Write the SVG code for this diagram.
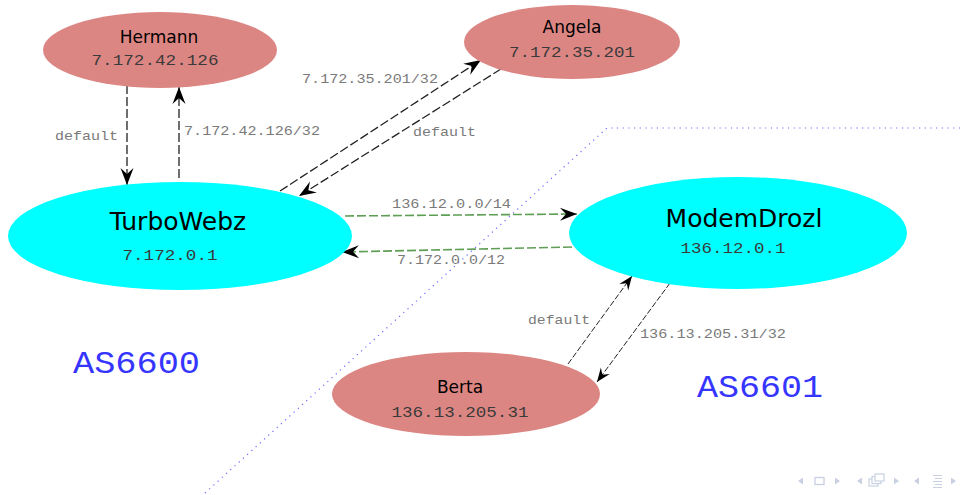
<svg xmlns="http://www.w3.org/2000/svg" width="964" height="495" viewBox="0 0 964 495">
<style>
.host{fill:#dc8683}
.router{fill:#00ffff}
.name{font-family:"DejaVu Sans",sans-serif;fill:#000}
.ip{font-family:"Liberation Mono",monospace;font-size:15px;fill:#3a3a3a;text-anchor:middle}
.lbl{font-family:"Liberation Mono",monospace;font-size:13px;fill:#7a7a7a}
.e{fill:none;stroke:#222;stroke-width:1.3;stroke-dasharray:9,3}
.eb{fill:none;stroke:#222;stroke-width:1;stroke-dasharray:6,2}
.g{fill:none;stroke:#5f9e55;stroke-width:1.6;stroke-dasharray:9,3}
.as{font-family:"Liberation Mono",monospace;font-size:32px;fill:#3535ff}
.nav{fill:#c8d0e2}
</style>
<defs>
<marker id="arr" markerUnits="userSpaceOnUse" viewBox="-18 -8 19 16" refX="0" refY="0" markerWidth="19" markerHeight="16" orient="auto">
<path d="M0,0 L-17,-6.5 L-11,0 L-17,6.5 z" fill="#000"/>
</marker>
<marker id="arrs" markerUnits="userSpaceOnUse" viewBox="-18 -8 19 16" refX="0" refY="0" markerWidth="19" markerHeight="16" orient="auto">
<path d="M0,0 L-14,-5.5 L-9,0 L-14,5.5 z" fill="#000"/>
</marker>
</defs>
<rect width="964" height="495" fill="#fff"/>
<polyline points="205,493 607,128 964,128" fill="none" stroke="#6a6aff" stroke-width="1.2" stroke-dasharray="1.2,4.5"/>
<text class="as" x="73" y="373" textLength="127" lengthAdjust="spacingAndGlyphs">AS6600</text>
<text class="as" x="697" y="397" textLength="126" lengthAdjust="spacingAndGlyphs">AS6601</text>
<g id="connectors">
<line class="e" x1="127" y1="85" x2="127" y2="185" marker-end="url(#arr)"/>
<line class="e" x1="179" y1="178" x2="179" y2="87" marker-end="url(#arr)"/>
<line class="e" x1="280" y1="191" x2="481" y2="60" marker-end="url(#arr)"/>
<line class="e" x1="501" y1="69" x2="299" y2="196" marker-end="url(#arr)"/>
<line class="g" x1="345" y1="216" x2="577" y2="214" marker-end="url(#arr)"/>
<line class="g" x1="572" y1="247" x2="342" y2="252" marker-end="url(#arr)"/>
<line class="eb" x1="568" y1="364" x2="632" y2="276" marker-end="url(#arrs)"/>
<line class="eb" x1="670" y1="283" x2="597" y2="382" marker-end="url(#arrs)"/>
<text class="lbl" x="55" y="140" textLength="63" lengthAdjust="spacingAndGlyphs">default</text>
<text class="lbl" x="184" y="135" textLength="136" lengthAdjust="spacingAndGlyphs">7.172.42.126/32</text>
<text class="lbl" x="302" y="83" textLength="136" lengthAdjust="spacingAndGlyphs">7.172.35.201/32</text>
<text class="lbl" x="413" y="136" textLength="63" lengthAdjust="spacingAndGlyphs">default</text>
<text class="lbl" x="392" y="208" textLength="119" lengthAdjust="spacingAndGlyphs">136.12.0.0/14</text>
<text class="lbl" x="397" y="264" textLength="108" lengthAdjust="spacingAndGlyphs">7.172.0.0/12</text>
<text class="lbl" x="528" y="324" textLength="62" lengthAdjust="spacingAndGlyphs">default</text>
<text class="lbl" x="640" y="338" textLength="146" lengthAdjust="spacingAndGlyphs">136.13.205.31/32</text>
</g>
<g id="hermann">
<ellipse class="host" cx="160" cy="50" rx="117" ry="38"/>
<text class="name" x="159" y="43" font-size="17" text-anchor="middle">Hermann</text>
<text class="ip" x="155" y="65" textLength="127" lengthAdjust="spacingAndGlyphs">7.172.42.126</text>
</g>
<g id="angela">
<ellipse class="host" cx="572" cy="42" rx="108" ry="37"/>
<text class="name" x="572" y="33" font-size="17" text-anchor="middle">Angela</text>
<text class="ip" x="572" y="57" textLength="126" lengthAdjust="spacingAndGlyphs">7.172.35.201</text>
</g>
<g id="turbowebz">
<ellipse class="router" cx="180" cy="236" rx="172" ry="54"/>
<text class="name" x="178" y="230" font-size="25" text-anchor="middle">TurboWebz</text>
<text class="ip" x="170" y="260" textLength="95" lengthAdjust="spacingAndGlyphs">7.172.0.1</text>
</g>
<g id="modemdrozl">
<ellipse class="router" cx="738" cy="233" rx="169" ry="56"/>
<text class="name" x="744" y="227" font-size="25" text-anchor="middle">ModemDrozl</text>
<text class="ip" x="733" y="253" textLength="105" lengthAdjust="spacingAndGlyphs">136.12.0.1</text>
</g>
<g id="berta">
<ellipse class="host" cx="466" cy="394" rx="134" ry="42"/>
<text class="name" x="460" y="393" font-size="17" text-anchor="middle">Berta</text>
<text class="ip" x="460" y="417" textLength="137" lengthAdjust="spacingAndGlyphs">136.13.205.31</text>
</g>
<g id="nav">
<path class="nav" d="M798,481 L803,477.5 L803,484.5 z"/>
<rect x="815" y="477.5" width="9" height="7" fill="none" stroke="#c8d0e2" stroke-width="1.3"/>
<path class="nav" d="M840,481 L835,477.5 L835,484.5 z"/>
<path class="nav" d="M857,481 L862,477.5 L862,484.5 z"/>
<rect x="869" y="479" width="9" height="7" fill="none" stroke="#c8d0e2" stroke-width="1.2"/>
<rect x="872" y="476.5" width="9" height="7" fill="#fff" stroke="#c8d0e2" stroke-width="1.2"/>
<rect x="875" y="474" width="9" height="7" fill="#fff" stroke="#c8d0e2" stroke-width="1.2"/>
<path class="nav" d="M899,481 L894,477.5 L894,484.5 z"/>
<path class="nav" d="M914,481 L919,477.5 L919,484.5 z"/>
<path d="M933,475.5 H942 M935,478.5 H942 M933,481.5 H942 M935,484.5 H942 M933,487.5 H942" stroke="#c8d0e2" stroke-width="1.2"/>
<path class="nav" d="M956,481 L951,477.5 L951,484.5 z"/>
</g>
</svg>
